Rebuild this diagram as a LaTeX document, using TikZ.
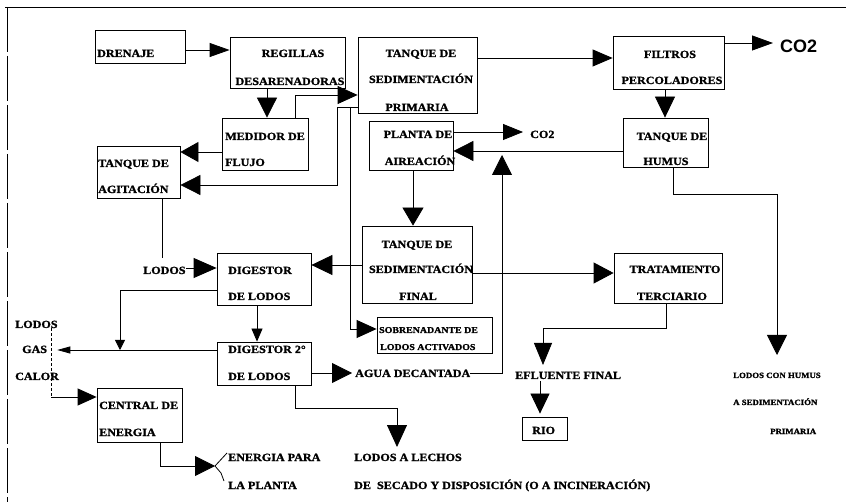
\documentclass[tikz,border=0pt]{standalone}
\usepackage{fontspec}
\setmainfont[FakeStretch=1.1, BoldFeatures={FakeBold=1.2}]{Liberation Serif}
\newfontfamily\cofont{Liberation Sans}
\usetikzlibrary{arrows.meta,fit}
\begin{document}
\begin{tikzpicture}[x=1pt,y=-1pt,
  box/.style={draw, line width=0.8pt, inner sep=0pt},
  txt/.style={inner sep=0pt, anchor=base west, font=\bfseries\fontsize{11}{13}\selectfont},
  ctxt/.style={txt, anchor=base},
  mtxt/.style={txt, font=\bfseries\fontsize{9}{11}\selectfont},
  stxt/.style={txt, font=\bfseries\fontsize{8}{10}\selectfont},
  ln/.style={line width=0.8pt},
  arr/.style={ln, -{Triangle[length=20pt,width=18pt]}},
  tarr/.style={ln, -{Triangle[length=13pt,width=7pt]}}]
\useasboundingbox (0,0) rectangle (846,502);
% frame
\draw[ln] (5,7) -- (846,7);
\draw[ln, dash pattern=on 45pt off 4pt] (7,7) -- (7,502);

% boxes
\node[box, fit={(95,30) (185,63)}] (drenaje) {};
\node[box, fit={(230,37) (345,88)}] (regillas) {};
\node[box, fit={(358,37) (477,113)}] (primaria) {};
\node[box, fit={(613,36) (724,89)}] (filtros) {};
\node[box, fit={(623,118) (708,167)}] (humus) {};
\node[box, fit={(222,118) (308,170)}] (medidor) {};
\node[box, fit={(97,146) (180,198)}] (agitacion) {};
\node[box, fit={(369,121) (453,170)}] (planta) {};
\node[box, fit={(362,226) (472,303)}] (final) {};
\node[box, fit={(217,253) (311,305)}] (digestor) {};
\node[box, fit={(614,253) (722,303)}] (tratamiento) {};
\node[box, fit={(377,317) (492,353)}] (sobrenadante) {};
\node[box, fit={(217,342) (311,385)}] (digestor2) {};
\node[box, fit={(97,388) (182,442)}] (central) {};
\node[box, fit={(522,417) (567,440)}] (rio) {};

% texts
\node[txt] (t-drenaje) at (97,57) {DRENAJE};
\node[ctxt] (t-reg1) at (293,57) {REGILLAS};
\node[ctxt] (t-reg2) at (290,85) {DESARENADORAS};
\node[ctxt] (t-pri1) at (421,57) {TANQUE DE};
\node[ctxt] (t-pri2) at (421,83) {SEDIMENTACIÓN};
\node[ctxt] (t-pri3) at (417,111) {PRIMARIA};
\node[ctxt] (t-fil1) at (670,58) {FILTROS};
\node[ctxt] (t-fil2) at (672,84) {PERCOLADORES};
\node[txt, font=\cofont\bfseries\fontsize{18}{20}\selectfont] (co2a) at (780,53) {CO2};
\node[ctxt] (t-hum1) at (672,140) {TANQUE DE};
\node[ctxt] (t-hum2) at (666,165) {HUMUS};
\node[txt] (t-med1) at (225,140) {MEDIDOR DE};
\node[txt] (t-med2) at (225,166) {FLUJO};
\node[txt] (t-agi1) at (98,167) {TANQUE DE};
\node[txt] (t-agi2) at (98,193) {AGITACIÓN};
\node[ctxt] (t-pla1) at (418,138) {PLANTA DE};
\node[ctxt] (t-pla2) at (420,165) {AIREACIÓN};
\node[txt] (co2b) at (530,138) {CO2};
\node[ctxt] (t-fin1) at (417,248) {TANQUE DE};
\node[ctxt] (t-fin2) at (421,273) {SEDIMENTACIÓN};
\node[ctxt] (t-fin3) at (418,300) {FINAL};
\node[txt] (t-dig1) at (228,274) {DIGESTOR};
\node[txt] (t-dig2) at (228,300) {DE LODOS};
\node[ctxt] (t-tra1) at (675,273) {TRATAMIENTO};
\node[ctxt] (t-tra2) at (672,300) {TERCIARIO};
\node[mtxt] (t-sob1) at (379,333) {SOBRENADANTE DE};
\node[mtxt] (t-sob2) at (380,350) {LODOS ACTIVADOS};
\node[txt] (lodosA) at (143,274) {LODOS};
\node[txt] (lodosL) at (15,328) {LODOS};
\node[txt] (gas) at (22,353) {GAS};
\node[txt] (calor) at (15,380) {CALOR};
\node[txt] (t-dd1) at (228,353) {DIGESTOR 2°};
\node[txt] (t-dd2) at (228,380) {DE LODOS};
\node[txt] (t-cen1) at (99,409) {CENTRAL DE};
\node[txt] (t-cen2) at (99,436) {ENERGIA};
\node[txt] (energia1) at (228,461) {ENERGIA PARA};
\node[txt] (energia2) at (228,489) {LA PLANTA};
\node[txt] (agua) at (355,377) {AGUA DECANTADA};
\node[txt] (efluente) at (515,379) {EFLUENTE FINAL};
\node[txt] (t-rio) at (532,434) {RIO};
\node[txt] (lechos1) at (354,461) {LODOS A LECHOS};
\node[txt] (lechos2) at (354,489) {DE\ \ SECADO Y DISPOSICIÓN (O A INCINERACIÓN)};
\node[stxt] (lch1) at (733,378) {LODOS CON HUMUS};
\node[stxt] (lch2) at (733,405) {A SEDIMENTACIÓN};
\node[stxt] (lch3) at (770,434) {PRIMARIA};

% connectors
\draw[ln, -{Triangle[length=20pt,width=14pt]}] ([yshift=-3.5pt]drenaje.east) -- ([yshift=-3.5pt]drenaje.east -| regillas.west);

\coordinate (xRM) at (267,0);
\draw[ln, -{Triangle[length=20pt,width=20pt]}] (regillas.south -| xRM) -- (medidor.north -| xRM);

\coordinate (jMP) at (295,95);
\draw[arr] (medidor.north -| jMP) -- (jMP) -- (jMP -| primaria.west);

\coordinate (jPA1) at (337,107);
\coordinate (jPA2) at (337,185);
\draw[ln, -{Triangle[length=20pt,width=20pt]}] (jPA1 -| primaria.west) -- (jPA1) -- (jPA2) -- (jPA2 -| agitacion.east);
\coordinate (jPS1) at (350,107);
\coordinate (jPS2) at (350,329);
\draw[arr] (jPS1) -- (jPS2) -- (jPS2 -| sobrenadante.west);

\coordinate (yMA) at (0,152);
\draw[ln, -{Triangle[length=18pt,width=20pt]}] (medidor.west |- yMA) -- (agitacion.east |- yMA);

\coordinate (yPF) at (0,58);
\draw[ln, -{Triangle[length=20pt,width=17pt]}] (primaria.east |- yPF) -- (filtros.west |- yPF);

\coordinate (yFC) at (0,43);
\draw[ln, -{Triangle[length=21pt,width=15pt]}, shorten >=7pt] (filtros.east |- yFC) -- (co2a.west |- yFC);

\coordinate (xFH) at (665,0);
\draw[ln, -{Triangle[length=21pt,width=20pt]}] (filtros.south -| xFH) -- (humus.north -| xFH);

\coordinate (yHP) at (0,151);
\draw[ln, -{Triangle[length=20pt,width=20pt]}] (humus.west |- yHP) -- (planta.east |- yHP);

\coordinate (yPC) at (0,132);
\draw[ln, -{Triangle[length=20pt,width=16pt]}, shorten >=7pt] (planta.east |- yPC) -- (co2b.west |- yPC);

\coordinate (xPF) at (413,0);
\draw[ln, -{Triangle[length=18pt,width=21pt]}] (planta.south -| xPF) -- (final.north -| xPF);

\coordinate (yFD) at (0,265);
\draw[ln, -{Triangle[length=21pt,width=20pt]}] (final.west |- yFD) -- (digestor.east |- yFD);

\coordinate (yFT) at (0,273);
\draw[ln, -{Triangle[length=20pt,width=21pt]}] (final.east |- yFT) -- (tratamiento.west |- yFT);

\coordinate (jTE1) at (666,328);
\coordinate (jTE2) at (543,328);
\coordinate (eTE) at (543,365);
\draw[ln, -{Triangle[length=22pt,width=18pt]}] (tratamiento.south -| jTE1) -- (jTE1) -- (jTE2) -- (eTE);

\coordinate (xER) at (540,0);
\draw[ln, -{Triangle[length=20pt,width=19pt]}, shorten <=2pt, shorten >=3pt] (efluente.south -| xER) -- (rio.north -| xER);

\coordinate (jHL1) at (673,194);
\coordinate (jHL2) at (777,194);
\coordinate (eHL) at (777,355);
\draw[ln, -{Triangle[length=20pt,width=20pt]}] (humus.south -| jHL1) -- (jHL1) -- (jHL2) -- (eHL);

\coordinate (eAL) at (162,258);
\draw[ln] (agitacion.south -| eAL) -- (eAL);

\coordinate (yLD) at (0,268);
\draw[ln, -{Triangle[length=23pt,width=20pt]}] (lodosA.east |- yLD) -- (digestor.west |- yLD);

\coordinate (xDD) at (257,0);
\draw[ln, -{Triangle[length=13pt,width=11pt]}] (digestor.south -| xDD) -- (digestor2.north -| xDD);

\coordinate (jDG1) at (120,290);
\coordinate (jDG2) at (120,350);
\draw[ln, -{Triangle[length=10pt,width=10pt]}] (digestor.west |- jDG1) -- (jDG1) -- (jDG2);

\coordinate (yDG) at (0,350);
\draw[tarr, shorten >=10pt] (digestor2.west |- yDG) -- (gas.east |- yDG);

\coordinate (jLC) at (51,397);
\draw[ln, dash pattern=on 3pt off 2pt] (lodosL.south -| jLC) -- (jLC);
\draw[ln, -{Triangle[length=19pt,width=17pt]}] (jLC) -- (central.west |- jLC);

\coordinate (jCE) at (160,466);
\coordinate (eCE) at (215,466);
\draw[ln, -{Triangle[length=20pt,width=20pt]}] (central.south -| jCE) -- (jCE) -- (eCE);
\draw[ln] (eCE) -- ++(12,-13);
\draw[ln] (eCE) -- ++(6,7) -- ++(3,8);

\coordinate (yDA) at (0,373);
\draw[ln, -{Triangle[length=20pt,width=20pt]}, shorten >=3pt] (digestor2.east |- yDA) -- (agua.west |- yDA);

\coordinate (jAU) at (502,373);
\coordinate (eAU) at (502,155);
\draw[ln, -{Triangle[length=20pt,width=20pt]}] (agua.east |- jAU) -- (jAU) -- (eAU);

\coordinate (jDL1) at (295,408);
\coordinate (jDL2) at (397,408);
\coordinate (eDL) at (397,447);
\draw[ln, -{Triangle[length=22pt,width=20pt]}] (digestor2.south -| jDL1) -- (jDL1) -- (jDL2) -- (eDL);
\end{tikzpicture}
\end{document}
